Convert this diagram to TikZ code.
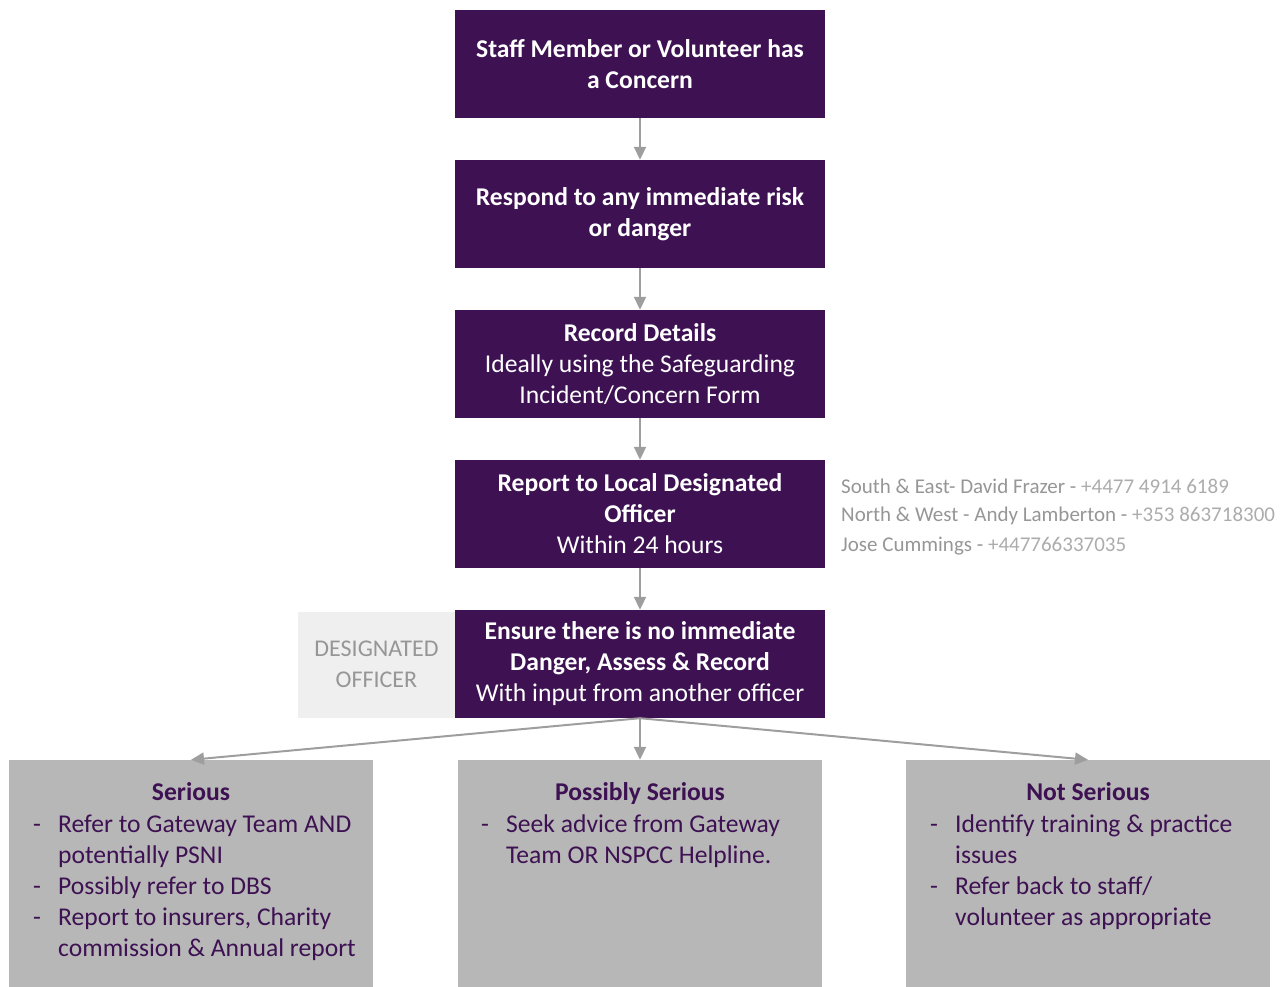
\documentclass[tikz,border=0pt]{standalone}
\usepackage{fontspec}
\setmainfont{Carlito}
\usetikzlibrary{arrows.meta}
\definecolor{dpurple}{RGB}{61,17,82}
\definecolor{lgray}{RGB}{183,183,183}
\definecolor{vlgray}{RGB}{239,239,239}
\definecolor{agray}{RGB}{158,158,158}
\definecolor{tgray}{RGB}{150,150,150}
\definecolor{pgray}{RGB}{172,172,172}
\begin{document}
\begin{tikzpicture}[x=1pt,y=-1pt,
  pbox/.style={rectangle, fill=dpurple, minimum width=370pt, minimum height=108pt, inner sep=0pt, align=center, text=white, font=\fontsize{25.6}{31}\selectfont},
  gbox/.style={rectangle, fill=lgray, minimum width=364pt, minimum height=232pt, inner sep=0pt},
  sidebox/.style={rectangle, fill=vlgray, minimum width=157pt, minimum height=106pt, inner sep=0pt, align=center, text=tgray, font=\fontsize{24}{31}\selectfont},
  btitle/.style={anchor=base, inner sep=0pt, text=dpurple, font=\fontsize{25.6}{31}\selectfont\bfseries},
  blist/.style={anchor=base west, inner sep=0pt, text=dpurple, font=\fontsize{25.6}{31}\selectfont},
  side/.style={anchor=base west, inner sep=0pt, font=\fontsize{21}{28}\selectfont},
  arr/.style={draw=agray, line width=2pt, -{Triangle[length=13pt,width=12pt]}, shorten >=0pt}
]
\useasboundingbox (0,0) rectangle (1284,987);

\node[pbox] (b1) at (640,64) {\textbf{Staff Member or Volunteer has}\\\textbf{a Concern}};
\node[pbox] (b2) at (640,214) {\textbf{Respond to any immediate risk}\\\textbf{or danger}};
\node[pbox] (b3) at (640,364) {\textbf{Record Details}\\Ideally using the Safeguarding\\Incident/Concern Form};
\node[pbox] (b4) at (640,514) {\textbf{Report to Local Designated}\\\textbf{Officer}\\Within 24 hours};
\node[sidebox] (des) at (376.5,664.5) {DESIGNATED\\OFFICER};
\node[pbox] (b5) at (640,664) {\textbf{Ensure there is no immediate}\\\textbf{Danger, Assess \& Record}\\With input from another officer};

\node[side] (s1) at (841,493) {\textcolor{tgray}{South \& East- David Frazer -} \textcolor{pgray}{+4477 4914 6189}};
\node[side] (s2) at (841,521) {\textcolor{tgray}{North \& West - Andy Lamberton -} \textcolor{pgray}{+353 863718300}};
\node[side] (s3) at (841,551) {\textcolor{tgray}{Jose Cummings -} \textcolor{pgray}{+447766337035}};

\node[gbox] (g1) at (191,876) {};
\node[gbox] (g2) at (640,876) {};
\node[gbox] (g3) at (1088,876) {};

\node[btitle] (t1) at (191,800) {Serious};
\node[btitle] (t2) at (640,800) {Possibly Serious};
\node[btitle] (t3) at (1088,800) {Not Serious};

\node[blist] (l1) at (33,832) {\begin{tabular}[t]{@{}p{25pt}@{}l@{}}
-&Refer to Gateway Team AND\\
&potentially PSNI\\
-&Possibly refer to DBS\\
-&Report to insurers, Charity\\
&commission \& Annual report
\end{tabular}};
\node[blist] (l2) at (481,832) {\begin{tabular}[t]{@{}p{25pt}@{}l@{}}
-&Seek advice from Gateway\\
&Team OR NSPCC Helpline.
\end{tabular}};
\node[blist] (l3) at (930,832) {\begin{tabular}[t]{@{}p{25pt}@{}l@{}}
-&Identify training \& practice\\
&issues\\
-&Refer back to staff/\\
&volunteer as appropriate
\end{tabular}};

\draw[arr] (b1.south) -- (b2.north);
\draw[arr] (b2.south) -- (b3.north);
\draw[arr] (b3.south) -- (b4.north);
\draw[arr] (b4.south) -- (b5.north);
\draw[arr] (b5.south) -- (g1.north);
\draw[arr] (b5.south) -- (g2.north);
\draw[arr] (b5.south) -- (g3.north);
\end{tikzpicture}
\end{document}
